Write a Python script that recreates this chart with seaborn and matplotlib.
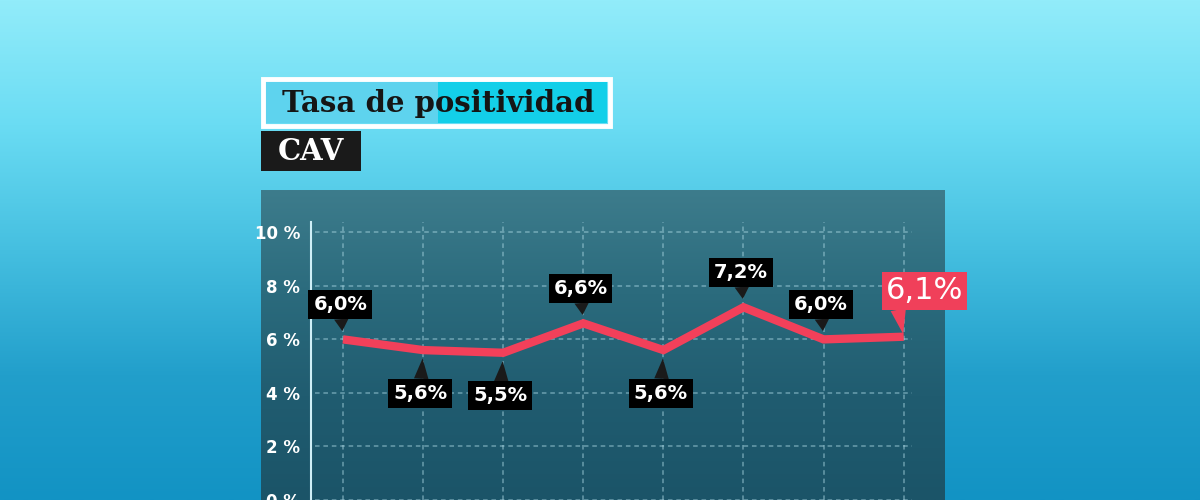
import matplotlib
matplotlib.use("Agg")
import matplotlib.pyplot as plt
import numpy as np
import seaborn as sns
from matplotlib.colors import LinearSegmentedColormap
from matplotlib.patches import Rectangle

# datos
semanas = list(range(8))
positividad = [6.0, 5.6, 5.5, 6.6, 5.6, 7.2, 6.0, 6.1]
y_ticks = [0, 2, 4, 6, 8, 10]
titulo = "Tasa de positividad"
subtitulo = "CAV"

sns.set_theme(style="white")
plt.rcParams["font.family"] = ["DejaVu Sans"]

W, H = 1200, 500
fig = plt.figure(figsize=(12, 5), dpi=100)

# fondo en coordenadas de pixel
bg = fig.add_axes([0, 0, 1, 1])
bg.set_xlim(0, W)
bg.set_ylim(H, 0)
bg.axis("off")

sky = LinearSegmentedColormap.from_list(
    "sky", ["#92ecfa", "#6adcf3", "#45bfe0", "#229fcb", "#1293c4"])
grad = np.linspace(0, 1, 256).reshape(-1, 1)
bg.imshow(grad, cmap=sky, aspect="auto", extent=(0, W, H, 0), zorder=0)

panel = LinearSegmentedColormap.from_list(
    "panel", ["#3d7c8c", "#2b6b7d", "#205c70", "#1b5468"])
bg.imshow(grad, cmap=panel, aspect="auto", extent=(261, 945, H, 190), zorder=1)

# titulo
bg.add_patch(Rectangle((263, 79), 347, 47, facecolor="none",
                       edgecolor="white", linewidth=3.5, zorder=2))
bg.add_patch(Rectangle((266, 82), 172, 41, facecolor="#5ed3ee",
                       edgecolor="none", zorder=2))
bg.add_patch(Rectangle((438, 82), 169, 41, facecolor="#13cfe9",
                       edgecolor="none", zorder=2))
bg.text(438, 103, titulo, ha="center", va="center", fontsize=21,
        fontweight="bold", family="DejaVu Serif", color="#151515", zorder=3)
bg.add_patch(Rectangle((261, 131), 100, 40, facecolor="#1a1a1a",
                       edgecolor="none", zorder=2))
bg.text(311, 151, subtitulo, ha="center", va="center", fontsize=21,
        fontweight="bold", family="DejaVu Serif", color="white", zorder=3)

# grafico
px_per_unit_x = 80.1
px_per_unit_y = 27.25
left_px, right_px, top_px = 311, 912, 222
x0 = (left_px - 343) / px_per_unit_x
x1 = (right_px - 343) / px_per_unit_x
ylo = (505 - H) / px_per_unit_y
yhi = (505 - top_px) / px_per_unit_y

ax = fig.add_axes([left_px / W, 0, (right_px - left_px) / W, (H - top_px) / H])
ax.set_facecolor("none")
ax.set_xlim(x0, x1)
ax.set_ylim(ylo, yhi)

grid_kw = dict(color="#a9d6e2", alpha=0.55, linewidth=1.1, linestyle=(0, (3, 2.5)), zorder=1)
for yt in y_ticks:
    ax.axhline(yt, xmin=4 / (right_px - left_px), **grid_kw)
for xs in semanas:
    ax.axvline(xs, **grid_kw)

sns.lineplot(x=semanas, y=positividad, ax=ax, color="#f2405a", linewidth=6,
             zorder=4, solid_joinstyle="miter", solid_capstyle="butt")

for s in ["top", "right", "bottom"]:
    ax.spines[s].set_visible(False)
ax.spines["left"].set_color("#cfeff7")
ax.spines["left"].set_linewidth(1.5)
ax.set_xticks([])
ax.set_yticks(y_ticks)
ax.set_yticklabels([f"{t} %" for t in y_ticks])
ax.tick_params(axis="y", length=0, pad=8, labelsize=12, labelcolor="white")
for lab in ax.get_yticklabels():
    lab.set_fontweight("bold")
ax.set_xlabel("")
ax.set_ylabel("")

# etiquetas
lados = ["up", "down", "down", "up", "down", "up", "up"]
for xs, v, lado in zip(semanas[:-1], positividad[:-1], lados):
    dy = 25 if lado == "up" else -31
    ax.annotate(f"{v:.1f}%".replace(".", ","), xy=(xs, v),
                xytext=(-2, dy), textcoords="offset points",
                ha="center", va="center", fontsize=14, fontweight="bold",
                color="white", zorder=6, annotation_clip=False,
                bbox=dict(boxstyle="square,pad=0.25", fc="black", ec="none"),
                arrowprops=dict(arrowstyle="wedge,tail_width=0.75", fc="#1a1a1a",
                                ec="none", shrinkA=0, shrinkB=6, mutation_scale=14))

v = positividad[-1]
ax.annotate(f"{v:.1f}%".replace(".", ","), xy=(semanas[-1], v),
            xytext=(15, 33), textcoords="offset points",
            ha="center", va="center", fontsize=22, fontweight="medium",
            color="white", zorder=6, annotation_clip=False,
            bbox=dict(boxstyle="square,pad=0.14", fc="#f0405a", ec="none"),
            arrowprops=dict(arrowstyle="wedge,tail_width=0.8", fc="#f0405a",
                            ec="none", shrinkA=0, shrinkB=2, mutation_scale=14,
                            relpos=(0.15, 0.0)))

fig.savefig("out.png", dpi=100)
